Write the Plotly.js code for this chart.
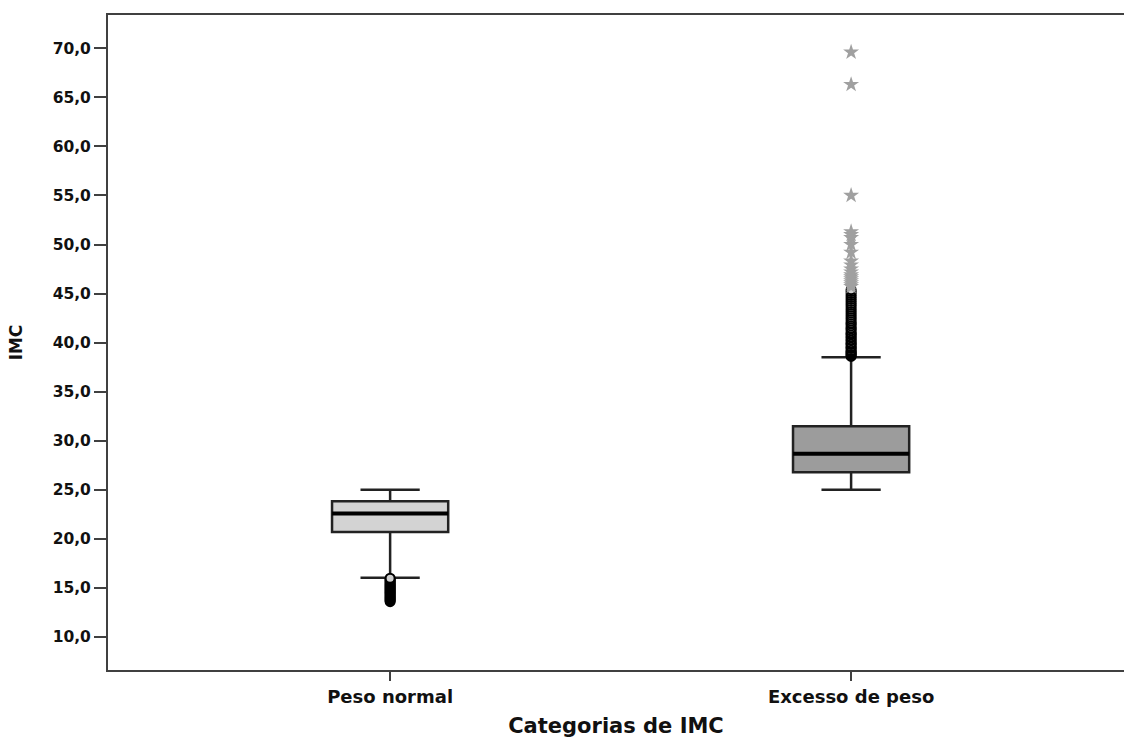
<!DOCTYPE html>
<html>
<head>
<meta charset="utf-8">
<script src="https://cdn.plot.ly/plotly-3.0.1.min.js"></script>
<style>html,body{margin:0;padding:0;background:#fff;}#chart{width:1124px;height:738px;}</style>
</head>
<body>
<div id="chart"></div>
<script>
const categories = ['Peso normal', 'Excesso de peso'];
const q1Values = [20.71, 26.78];
const medianValues = [22.58, 28.69];
const q3Values = [23.83, 31.47];
const lowerWhisker = [16.03, 25.0];
const upperWhisker = [25.0, 38.5];

const outliersNormal = [13.6, 13.7, 13.8, 13.9, 14.0, 14.1, 14.2, 14.3, 14.4, 14.5, 14.6, 14.7, 14.8, 14.9, 15.0, 15.1, 15.2, 15.3, 15.4, 15.5, 15.6, 15.7, 15.8, 15.9, 16.0];
const outliersExcess = [38.6, 38.7, 38.8, 38.9, 39.0, 39.1, 39.2, 39.4, 39.5, 39.6, 39.8, 39.9, 40.0, 40.2, 40.3, 40.5, 40.6, 40.8, 40.9, 41.0, 41.2, 41.4, 41.5, 41.7, 41.9, 42.0, 42.2, 42.4, 42.6, 42.8, 43.0, 43.2, 43.4, 43.6, 43.8, 44.0, 44.2, 44.4, 44.6, 44.8, 45.0, 45.2, 45.4];
const extremesExcess = [45.7, 45.9, 46.1, 46.3, 46.5, 46.7, 46.9, 47.2, 47.5, 47.9, 48.3, 49.2, 50.0, 50.7, 51.0, 51.3, 55.0, 66.3, 69.6];

const yTickVals = [10, 15, 20, 25, 30, 35, 40, 45, 50, 55, 60, 65, 70];
const yTickText = ['10,0', '15,0', '20,0', '25,0', '30,0', '35,0', '40,0', '45,0', '50,0', '55,0', '60,0', '65,0', '70,0'];

const fills = ['#d3d3d3', '#9c9c9c'];
const FONT = 'DejaVu Sans, Liberation Sans, Arial, sans-serif';

const traces = [];
categories.forEach((c, i) => {
  traces.push({
    type: 'box', x: [c], q1: [q1Values[i]], median: [medianValues[i]], q3: [q3Values[i]],
    lowerfence: [lowerWhisker[i]], upperfence: [upperWhisker[i]],
    boxpoints: false, width: 0.252, whiskerwidth: 0.51,
    fillcolor: fills[i], line: {color: '#222', width: 2.5},
    hoverinfo: 'skip', showlegend: false
  });
});
categories.forEach((c, i) => {
  traces.push({
    type: 'box', x: [c], q1: [medianValues[i]], median: [medianValues[i]], q3: [medianValues[i]],
    lowerfence: [medianValues[i]], upperfence: [medianValues[i]],
    boxpoints: false, width: 0.252, whiskerwidth: 0,
    fillcolor: 'rgba(0,0,0,0)', line: {color: '#000', width: 4},
    hoverinfo: 'skip', showlegend: false
  });
});
traces.push({
  type: 'scatter', mode: 'markers',
  x: outliersNormal.map(() => categories[0]), y: outliersNormal,
  marker: {symbol: 'circle', size: 9, color: '#cfcfcf', line: {color: '#000', width: 2}},
  hoverinfo: 'skip', showlegend: false
});
traces.push({
  type: 'scatter', mode: 'markers',
  x: outliersExcess.map(() => categories[1]), y: outliersExcess,
  marker: {symbol: 'circle', size: 9, color: '#cfcfcf', line: {color: '#000', width: 2}},
  hoverinfo: 'skip', showlegend: false
});
traces.push({
  type: 'scatter', mode: 'markers',
  x: extremesExcess.map(() => categories[1]), y: extremesExcess,
  marker: {symbol: 'star', size: 12, color: '#a0a0a0', line: {width: 0}},
  hoverinfo: 'skip', showlegend: false
});

const layout = {
  width: 1124, height: 738,
  margin: {l: 108, r: 0, t: 15, b: 68},
  paper_bgcolor: '#fff', plot_bgcolor: '#fff',
  showlegend: false,
  boxmode: 'overlay',
  xaxis: {
    type: 'category', categoryorder: 'array', categoryarray: categories,
    range: [-0.612, 1.592],
    showline: true, mirror: true, linecolor: '#404040', linewidth: 2,
    ticks: 'outside', ticklen: 9, tickwidth: 2, tickcolor: '#404040',
    showgrid: false, zeroline: false,
    tickfont: {family: FONT, size: 18, color: '#111', weight: 'bold'},
    title: {text: 'Categorias de IMC', font: {family: FONT, size: 21, color: '#111', weight: 'bold'}, standoff: 14}
  },
  yaxis: {
    range: [6.64, 73.39],
    tickvals: yTickVals, ticktext: yTickText,
    showline: true, mirror: false, linecolor: '#404040', linewidth: 2,
    ticks: 'outside', ticklen: 12, tickwidth: 2, tickcolor: '#404040',
    showgrid: false, zeroline: false,
    tickfont: {family: FONT, size: 15.5, color: '#111', weight: 'bold'},
    title: {text: 'IMC', font: {family: FONT, size: 17, color: '#111', weight: 'bold'}, standoff: 26}
  }
};

Plotly.newPlot('chart', traces, layout, {displayModeBar: false, staticPlot: true});
</script>
</body>
</html>
